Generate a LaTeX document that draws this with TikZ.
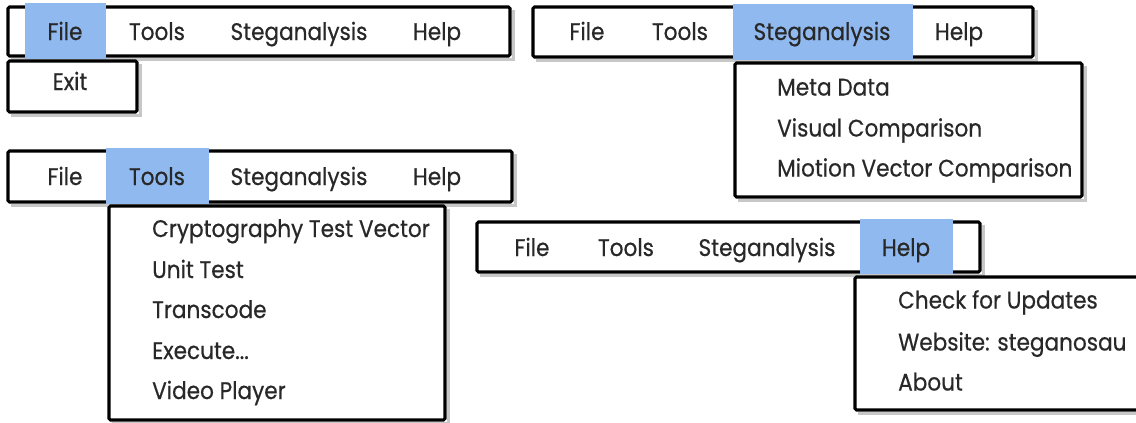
\documentclass[tikz,border=0pt]{standalone}
\usepackage{fontspec}
\setmainfont[FakeStretch=0.9,FakeBold=0.5]{Poppins}
\definecolor{selblue}{RGB}{144,185,240}
\definecolor{ink}{RGB}{40,40,40}
\tikzset{
  frame/.style={draw=black, line width=3.1pt, fill=white, rounded corners=1.5pt},
  shadowline/.style={draw=black!22, line width=3pt},
  sel/.style={fill=selblue, draw=none},
  menu/.style={anchor=base, text=ink, inner sep=0pt, font=\fontsize{24}{28}\selectfont},
  entry/.style={anchor=base west, text=ink, inner sep=0pt, font=\fontsize{24}{28}\selectfont}
}
\begin{document}
\begin{tikzpicture}[x=1pt,y=-1pt]
\useasboundingbox (0,0) rectangle (1136,423);
\clip (0,0) rectangle (1136,423);

% ---- File menu open ----
\draw[shadowline] (11,59) -- (513,59) -- (513,10);
\draw[frame] (8,7) rectangle (510,56);
\fill[sel] (25,3) rectangle (106,59);
\node[menu] (a-file)  at (65,40)  {File};
\node[menu] (a-tools) at (157,40) {Tools};
\node[menu] (a-steg)  at (299,40) {Steganalysis};
\node[menu] (a-help)  at (437,40) {Help};
\draw[shadowline] (11,115) -- (140,115) -- (140,64);
\draw[frame] (8,61) rectangle (137,112);
\node[menu] (a-exit) at (70,90) {Exit};

% ---- Steganalysis menu open ----
\draw[shadowline] (536,60) -- (1036,60) -- (1036,10);
\draw[frame] (533,7) rectangle (1033,57);
\fill[sel] (733,4) rectangle (913,60);
\node[menu] (b-file)  at (587,40) {File};
\node[menu] (b-tools) at (680,40) {Tools};
\node[menu] (b-steg)  at (822,40) {Steganalysis};
\node[menu] (b-help)  at (959,40) {Help};
\draw[shadowline] (738,200) -- (1085,200) -- (1085,66);
\draw[frame] (735,63) rectangle (1082,197);
\node[entry] (b-meta)   at (777,95.5)  {Meta Data};
\node[entry] (b-visual) at (777,136.5) {Visual Comparison};
\node[entry] (b-motion) at (777,176.5) {Miotion Vector Comparison};

% ---- Tools menu open ----
\draw[shadowline] (11,205) -- (515,205) -- (515,154);
\draw[frame] (8,151) rectangle (512,202);
\fill[sel] (106,148) rectangle (209,204);
\node[menu] (c-file)  at (65,185)  {File};
\node[menu] (c-tools) at (157,185) {Tools};
\node[menu] (c-steg)  at (299,185) {Steganalysis};
\node[menu] (c-help)  at (437,185) {Help};
\draw[shadowline] (112,423) -- (448,423) -- (448,209);
\draw[frame] (109,206) rectangle (445,420);
\node[entry] (c-crypto)  at (152,237) {Cryptography Test Vector};
\node[entry] (c-unit)    at (152,278) {Unit Test};
\node[entry] (c-trans)   at (152,318) {Transcode};
\node[entry] (c-exec)    at (152,359) {Execute...};
\node[entry] (c-player)  at (152,399) {Video Player};

% ---- Help menu open ----
\draw[shadowline] (480,275) -- (983,275) -- (983,225);
\draw[frame] (477,222) rectangle (980,272);
\fill[sel] (860,219) rectangle (953,274);
\node[menu] (d-file)  at (532,256) {File};
\node[menu] (d-tools) at (626,256) {Tools};
\node[menu] (d-steg)  at (767,256) {Steganalysis};
\node[menu] (d-help)  at (906,256) {Help};
\draw[shadowline] (858,413) -- (1160,413);
\draw[frame] (855,277) rectangle (1160,410);
\node[entry] (d-update) at (898,308.5) {Check for Updates};
\node[entry] (d-web)    at (898,350.5) {Website: steganosau};
\node[entry] (d-about)  at (898,390.5) {About};
\end{tikzpicture}
\end{document}
